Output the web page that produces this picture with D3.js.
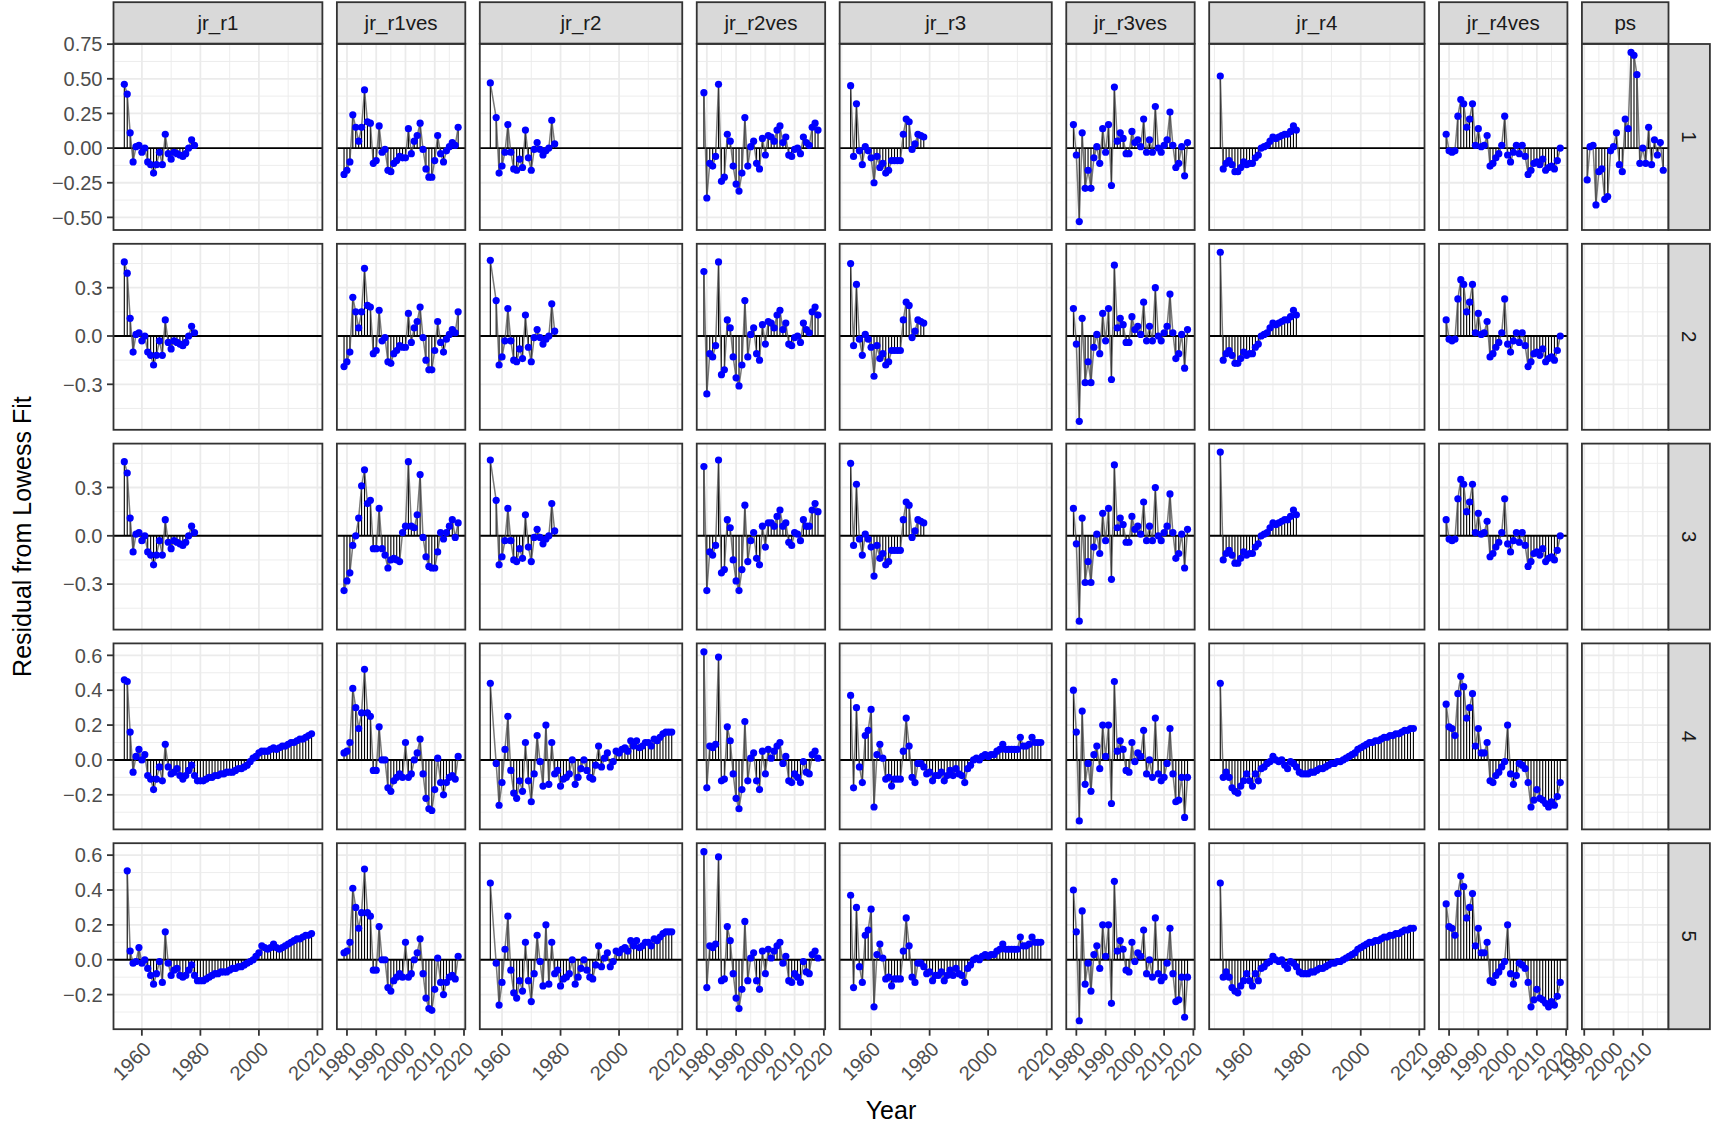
<!DOCTYPE html>
<html>
<head>
<meta charset="utf-8">
<script src="https://cdn.jsdelivr.net/npm/d3@7"></script>
<style>
  body { margin: 0; background: #fff; }
  svg { display: block; }
  text { font-family: "Liberation Sans", Arial, Helvetica, sans-serif; }
</style>
</head>
<body>
<svg id="chart" width="1711" height="1128"></svg>
<script>
// facet columns and rows
var columns = ["jr_r1", "jr_r1ves", "jr_r2", "jr_r2ves", "jr_r3", "jr_r3ves", "jr_r4", "jr_r4ves", "ps"];
var rowLabels = ["1", "2", "3", "4", "5"];

// residuals, one value per year from the first year given in panelData (null = no value that year)
var jr_r1_a = [0.46, 0.39, 0.11, -0.10, 0.01, 0.02,
  -0.03, 0.00, -0.10, -0.12, -0.18, -0.12, -0.03, -0.12, 0.10, -0.04,
  -0.08, -0.03, -0.04, -0.05, -0.06, -0.04, 0.00, 0.06, 0.02];
var jr_r1_d = [0.46, 0.45, 0.16, -0.07, 0.02, 0.06,
  0.00, 0.03, -0.09, -0.11, -0.17, -0.11, -0.04, -0.12, 0.09, -0.04,
  -0.08, -0.07, -0.05, -0.09, -0.11, -0.09, -0.06, -0.03, -0.09, -0.12,
  -0.12, -0.12, -0.11, -0.10, -0.10, -0.09, -0.09, -0.08, -0.08, -0.07,
  -0.07, -0.07, -0.06, -0.05, -0.05, -0.04, -0.03, -0.01, 0.01, 0.02,
  0.04, 0.05, 0.05, 0.05, 0.06, 0.07, 0.06, 0.07, 0.08, 0.08,
  0.09, 0.10, 0.10, 0.11, 0.12, 0.12, 0.13, 0.14, 0.15];
var jr_r1_e = [0.51, 0.05, -0.02, -0.01, 0.07,
  -0.02, 0.00, -0.05, -0.09, -0.14, -0.08, -0.01, -0.13, 0.16, -0.02,
  -0.09, -0.06, -0.05, -0.09, -0.10, -0.09, -0.06, -0.03, -0.09, -0.12,
  -0.12, -0.12, -0.11, -0.10, -0.09, -0.08, -0.08, -0.07, -0.07, -0.07,
  -0.06, -0.05, -0.05, -0.04, -0.04, -0.03, -0.02, -0.01, 0.00, 0.02,
  0.04, 0.08, 0.07, 0.06, 0.07, 0.09, 0.07, 0.06, 0.07, 0.08,
  0.09, 0.10, 0.11, 0.12, 0.12, 0.13, 0.14, 0.14, 0.15];

var jr_r1ves_a = [-0.19, -0.16, -0.10, 0.24, 0.15, 0.05, 0.15, 0.42, 0.19, 0.18,
  -0.11, -0.09, 0.16, -0.03, -0.01, -0.16, -0.17, -0.11, -0.09, -0.06,
  -0.07, -0.07, 0.14, -0.04, 0.05, 0.09, 0.18, -0.01, -0.15, -0.21,
  -0.21, -0.09, 0.09, -0.04, -0.10, -0.02, 0.01, 0.04, 0.02, 0.15];
var jr_r1ves_c = [-0.34, -0.28, -0.23, -0.06, 0.00, 0.11, 0.31, 0.41, 0.20, 0.22,
  -0.08, -0.08, 0.17, -0.08, -0.12, -0.20, -0.15, -0.14, -0.15, -0.16,
  0.02, 0.06, 0.46, 0.06, 0.05, 0.13, 0.38, -0.01, -0.13, -0.19,
  -0.20, -0.20, -0.10, 0.02, -0.02, 0.02, 0.06, 0.10, -0.01, 0.08];
var jr_r1ves_d = [0.04, 0.05, 0.10, 0.41, 0.30, 0.18, 0.27, 0.52, 0.27, 0.25,
  -0.06, -0.06, 0.19, 0.00, 0.00, -0.16, -0.18, -0.12, -0.10, -0.08,
  -0.10, 0.10, -0.10, -0.08, 0.00, 0.04, 0.12, -0.08, -0.22, -0.28,
  -0.29, -0.17, 0.01, -0.13, -0.20, -0.13, -0.10, -0.09, -0.11, 0.02];

var jr_r2_a = [0.47, null, 0.22, -0.18,
  -0.13, -0.03, 0.17, -0.03, -0.15, -0.16, -0.08, -0.14, 0.13, -0.07,
  -0.16, -0.01, 0.04, -0.01, -0.05, -0.02, 0.00, 0.20, 0.03];
var jr_r2_d = [0.44, null, -0.02, -0.26,
  -0.13, 0.06, 0.25, -0.06, -0.19, -0.22, -0.12, -0.18, 0.10, -0.12,
  -0.24, -0.08, 0.14, -0.01, -0.15, 0.20, -0.14, 0.10, -0.08, -0.06,
  -0.15, -0.11, -0.10, -0.08, 0.00, -0.14, -0.10, -0.05, 0.00, -0.06,
  -0.10, -0.11, -0.03, 0.08, -0.04, 0.01, 0.04, -0.04, -0.01, 0.05,
  0.04, 0.06, 0.07, 0.05, 0.11, 0.08, 0.11, 0.07, 0.08, 0.10,
  0.10, 0.08, 0.12, 0.11, 0.13, 0.15, 0.16, 0.16, 0.16];

var jr_r2ves_a = [0.40, -0.36, -0.11, -0.13, -0.06, 0.46, -0.24, -0.21, 0.10, 0.05,
  -0.13, -0.26, -0.31, -0.18, 0.22, -0.13, 0.01, 0.05, -0.11, -0.15,
  0.07, -0.05, 0.09, 0.08, 0.05, 0.13, 0.16, 0.04, 0.08, -0.05,
  -0.06, -0.01, 0.00, -0.04, 0.08, 0.04, 0.02, 0.15, 0.18, 0.13];
var jr_r2ves_c = [0.43, -0.34, -0.10, -0.12, -0.06, 0.47, -0.23, -0.21, 0.10, 0.05,
  -0.15, -0.28, -0.34, -0.21, 0.19, -0.16, -0.03, 0.02, -0.14, -0.18,
  0.06, -0.07, 0.08, 0.08, 0.06, 0.12, 0.16, 0.06, 0.08, -0.04,
  -0.06, 0.02, 0.01, -0.03, 0.10, 0.06, 0.06, 0.16, 0.20, 0.15];
var jr_r2ves_d = [0.62, -0.16, 0.08, 0.07, 0.09, 0.59, -0.12, -0.11, 0.19, 0.11,
  -0.08, -0.22, -0.28, -0.17, 0.22, -0.12, 0.01, 0.04, -0.12, -0.17,
  0.05, -0.08, 0.06, 0.01, 0.05, 0.08, 0.10, -0.02, 0.02, -0.12,
  -0.13, -0.08, -0.10, -0.13, -0.01, -0.07, -0.08, 0.03, 0.05, 0.01];

var jr_r3_a = [0.45, -0.06, 0.32, -0.02, -0.12, 0.01, -0.02,
  -0.07, -0.25, -0.06, -0.14, -0.11, -0.18, -0.16, -0.09, -0.09, -0.09,
  -0.09, 0.10, 0.21, 0.19, -0.01, 0.03, 0.10, 0.09, 0.08];
var jr_r3_d = [0.37, -0.16, 0.30, -0.04, -0.13, 0.14, 0.17,
  0.29, -0.27, 0.03, 0.09, 0.01, -0.11, -0.10, -0.15, -0.11, -0.11,
  -0.11, 0.05, 0.24, 0.08, -0.10, -0.13, -0.02, -0.02, -0.04, -0.08,
  -0.07, -0.12, -0.09, -0.09, -0.07, -0.12, -0.09, -0.06, -0.09, -0.05,
  -0.08, -0.09, -0.13, -0.05, -0.03, 0.00, 0.01, 0.00, 0.02, 0.03,
  0.02, 0.03, 0.03, 0.05, 0.06, 0.09, 0.06, 0.06, 0.06, 0.06,
  0.06, 0.13, 0.08, 0.08, 0.09, 0.13, 0.10, 0.10, 0.10];

var jr_r3ves_a = [0.17, -0.05, -0.53, 0.11, -0.29, -0.16, -0.29, -0.07, 0.01, -0.11,
  0.14, -0.03, 0.17, -0.27, 0.44, 0.05, 0.11, 0.07, -0.04, -0.04,
  0.12, 0.04, 0.06, 0.01, 0.21, -0.03, 0.06, -0.03, 0.30, 0.00,
  -0.03, 0.02, 0.06, 0.26, 0.02, -0.14, -0.11, 0.01, -0.20, 0.04];
var jr_r3ves_d = [0.40, 0.16, -0.35, 0.28, -0.14, -0.02, -0.18, 0.03, 0.08, -0.05,
  0.20, 0.02, 0.20, -0.25, 0.45, 0.05, 0.11, 0.06, -0.06, -0.07,
  0.10, -0.01, 0.04, 0.02, 0.17, -0.08, 0.00, -0.10, 0.24, -0.08,
  -0.12, -0.10, -0.02, 0.18, -0.08, -0.24, -0.23, -0.10, -0.33, -0.10];

var jr_r4_a = [0.52, -0.15, -0.11, -0.09, -0.12, -0.17, -0.17, -0.14,
  -0.10, -0.12, -0.11, -0.11, -0.07, -0.05, 0.00, 0.01, 0.02, 0.05,
  0.08, 0.07, 0.08, 0.09, 0.10, 0.10, 0.12, 0.16, 0.13];
var jr_r4_d = [0.44, -0.10, -0.07, -0.10, -0.16, -0.18, -0.19, -0.15,
  -0.12, -0.08, -0.12, -0.15, -0.08, -0.12, -0.05, -0.04, -0.02, -0.01,
  0.02, 0.00, -0.01, 0.00, -0.03, -0.05, -0.01, -0.02, -0.04, -0.07,
  -0.08, -0.08, -0.08, -0.07, -0.07, -0.06, -0.05, -0.05, -0.04, -0.03,
  -0.02, -0.02, -0.01, -0.01, 0.00, 0.01, 0.02, 0.03, 0.04, 0.06,
  0.07, 0.08, 0.09, 0.10, 0.10, 0.11, 0.11, 0.12, 0.13, 0.13,
  0.14, 0.14, 0.15, 0.15, 0.16, 0.17, 0.17, 0.18, 0.18];

var jr_r4ves_a = [0.10, -0.02, -0.03, -0.02, 0.23, 0.35, 0.32, 0.15, 0.21, 0.32,
  0.02, 0.14, 0.01, 0.02, 0.09, -0.13, -0.11, -0.07, -0.04, 0.02,
  0.23, -0.05, -0.10, -0.03, 0.02, -0.04, 0.02, -0.06, -0.19, -0.16,
  -0.11, -0.10, -0.12, -0.08, -0.16, -0.14, -0.13, -0.15, -0.09, 0.00];
var jr_r4ves_d = [0.32, 0.19, 0.18, 0.14, 0.38, 0.48, 0.42, 0.24, 0.30, 0.38,
  0.08, 0.18, 0.04, 0.04, 0.10, -0.12, -0.13, -0.09, -0.07, -0.04,
  -0.01, 0.20, -0.08, -0.14, -0.09, -0.02, -0.03, -0.05, -0.13, -0.27,
  -0.23, -0.17, -0.22, -0.23, -0.25, -0.27, -0.24, -0.26, -0.21, -0.13];

var ps_a = [-0.23, 0.01, 0.02, -0.41, -0.17, -0.15, -0.37, -0.35, -0.02,
  0.01, 0.11, -0.12, -0.17, 0.21, 0.14, 0.69, 0.67, 0.53, -0.11,
  0.00, -0.11, 0.15, -0.12, 0.06, -0.05, 0.04, -0.16];

// [column, row index, first year, residuals]
var panelData = [
  ["jr_r1", 0, 1954, jr_r1_a], ["jr_r1", 1, 1954, jr_r1_a], ["jr_r1", 2, 1954, jr_r1_a],
  ["jr_r1", 3, 1954, jr_r1_d], ["jr_r1", 4, 1955, jr_r1_e],
  ["jr_r1ves", 0, 1979, jr_r1ves_a], ["jr_r1ves", 1, 1979, jr_r1ves_a], ["jr_r1ves", 2, 1979, jr_r1ves_c],
  ["jr_r1ves", 3, 1979, jr_r1ves_d], ["jr_r1ves", 4, 1979, jr_r1ves_d],
  ["jr_r2", 0, 1956, jr_r2_a], ["jr_r2", 1, 1956, jr_r2_a], ["jr_r2", 2, 1956, jr_r2_a],
  ["jr_r2", 3, 1956, jr_r2_d], ["jr_r2", 4, 1956, jr_r2_d],
  ["jr_r2ves", 0, 1979, jr_r2ves_a], ["jr_r2ves", 1, 1979, jr_r2ves_a], ["jr_r2ves", 2, 1979, jr_r2ves_c],
  ["jr_r2ves", 3, 1979, jr_r2ves_d], ["jr_r2ves", 4, 1979, jr_r2ves_d],
  ["jr_r3", 0, 1953, jr_r3_a], ["jr_r3", 1, 1953, jr_r3_a], ["jr_r3", 2, 1953, jr_r3_a],
  ["jr_r3", 3, 1953, jr_r3_d], ["jr_r3", 4, 1953, jr_r3_d],
  ["jr_r3ves", 0, 1979, jr_r3ves_a], ["jr_r3ves", 1, 1979, jr_r3ves_a], ["jr_r3ves", 2, 1979, jr_r3ves_a],
  ["jr_r3ves", 3, 1979, jr_r3ves_d], ["jr_r3ves", 4, 1979, jr_r3ves_d],
  ["jr_r4", 0, 1952, jr_r4_a], ["jr_r4", 1, 1952, jr_r4_a], ["jr_r4", 2, 1952, jr_r4_a],
  ["jr_r4", 3, 1952, jr_r4_d], ["jr_r4", 4, 1952, jr_r4_d],
  ["jr_r4ves", 0, 1979, jr_r4ves_a], ["jr_r4ves", 1, 1979, jr_r4ves_a], ["jr_r4ves", 2, 1979, jr_r4ves_a],
  ["jr_r4ves", 3, 1979, jr_r4ves_d], ["jr_r4ves", 4, 1979, jr_r4ves_d],
  ["ps", 0, 1991, ps_a]
];

// axis breaks
var yTicksByRow = [
  [-0.5, -0.25, 0, 0.25, 0.5, 0.75],
  [-0.3, 0, 0.3],
  [-0.3, 0, 0.3],
  [-0.2, 0, 0.2, 0.4, 0.6],
  [-0.2, 0, 0.2, 0.4, 0.6]
];
var yTickDigits = [2, 1, 1, 1, 1];
var xTicksJr = [1960, 1980, 2000, 2020];
var xTicksVes = [1980, 1990, 2000, 2010, 2020];
var xTicksPs = [1990, 2000, 2010];

var xLabel = "Year";
var yLabel = "Residual from Lowess Fit";

// ---- layout ----
var left = 113.5, right = 1668.5, gapX = 14.5;
var stripTop = 2.2, stripH = 41.4;
var panelTop = 44, panelH = 186, gapY = 13.8;
var tickLen = 6.5;
var barHalf = 0.45; // the yearly bars are 0.9 wide, which widens the x range
var gridCol = "#EBEBEB", borderCol = "#333333";

var svg = d3.select("#chart");

var panels = panelData.map(function (p) {
  var pts = p[3].map(function (v, i) { return { year: p[2] + i, v: v }; })
    .filter(function (d) { return d.v !== null; });
  return { col: p[0], row: p[1], points: pts };
});

function expand(ext) {
  var pad = (ext[1] - ext[0]) * 0.05;
  return [ext[0] - pad, ext[1] + pad];
}

// x domain per column (shared down the column), width proportional to its span
var xDomains = columns.map(function (c) {
  var yrs = [];
  panels.filter(function (p) { return p.col === c; })
    .forEach(function (p) { p.points.forEach(function (d) { yrs.push(d.year); }); });
  var ext = d3.extent(yrs);
  return expand([ext[0] - barHalf, ext[1] + barHalf]);
});
var spans = xDomains.map(function (d) { return d[1] - d[0]; });
var totalW = (right - left) - gapX * (columns.length - 1);
var spanSum = d3.sum(spans);
var colX = [], colW = [];
var cx = left;
spans.forEach(function (s, i) {
  colX.push(cx);
  colW.push(totalW * s / spanSum);
  cx += totalW * s / spanSum + gapX;
});
var xScales = columns.map(function (c, i) {
  return d3.scaleLinear().domain(xDomains[i]).range([0, colW[i]]);
});

// y domain per row
var yScales = rowLabels.map(function (r, ri) {
  var vals = [];
  panels.filter(function (p) { return p.row === ri; })
    .forEach(function (p) { p.points.forEach(function (d) { vals.push(d.v); }); });
  return d3.scaleLinear().domain(expand(d3.extent(vals))).range([panelH, 0]);
});
var rowY = rowLabels.map(function (r, i) { return panelTop + i * (panelH + gapY); });

function xTicksFor(c) {
  if (c === "ps") return xTicksPs;
  if (c.indexOf("ves") >= 0) return xTicksVes;
  return xTicksJr;
}
function minorOf(ticks, domain) {
  var step = ticks[1] - ticks[0];
  var m = [ticks[0] - step / 2].concat(ticks.map(function (t) { return t + step / 2; }));
  return m.filter(function (v) { return v > domain[0] && v < domain[1]; });
}
function fmt(v, digits) {
  var s = Math.abs(v).toFixed(digits);
  return (v < 0 ? "\u2212" : "") + s;
}

var defs = svg.append("defs");

columns.forEach(function (c, ci) {
  var x = xScales[ci];
  var xt = xTicksFor(c).filter(function (t) { return t >= x.domain()[0] && t <= x.domain()[1]; });
  var xm = minorOf(xTicksFor(c), x.domain());

  rowLabels.forEach(function (r, ri) {
    var y = yScales[ri];
    var yt = yTicksByRow[ri];
    var ym = minorOf(yt, y.domain());
    var w = colW[ci];

    var g = svg.append("g").attr("transform", "translate(" + colX[ci] + "," + rowY[ri] + ")");
    g.append("rect").attr("width", w).attr("height", panelH).attr("fill", "#fff");

    // minor grid
    g.selectAll(".xm").data(xm).enter().append("line")
      .attr("x1", x).attr("x2", x).attr("y1", 0).attr("y2", panelH)
      .attr("stroke", gridCol).attr("stroke-width", 0.9);
    g.selectAll(".ym").data(ym).enter().append("line")
      .attr("y1", y).attr("y2", y).attr("x1", 0).attr("x2", w)
      .attr("stroke", gridCol).attr("stroke-width", 0.9);
    // major grid
    g.selectAll(".xg").data(xt).enter().append("line")
      .attr("x1", x).attr("x2", x).attr("y1", 0).attr("y2", panelH)
      .attr("stroke", gridCol).attr("stroke-width", 1.8);
    g.selectAll(".yg").data(yt).enter().append("line")
      .attr("y1", y).attr("y2", y).attr("x1", 0).attr("x2", w)
      .attr("stroke", gridCol).attr("stroke-width", 1.8);

    var clipId = "clip-" + ci + "-" + ri;
    defs.append("clipPath").attr("id", clipId)
      .append("rect").attr("width", w).attr("height", panelH);
    var inner = g.append("g").attr("clip-path", "url(#" + clipId + ")");

    var p = panels.find(function (d) { return d.col === c && d.row === ri; });
    if (p) {
      // zero line
      inner.append("line")
        .attr("x1", 0).attr("x2", w).attr("y1", y(0)).attr("y2", y(0))
        .attr("stroke", "#000").attr("stroke-width", 1.9);

      inner.selectAll(".seg").data(p.points).enter().append("line")
        .attr("x1", function (d) { return x(d.year); })
        .attr("x2", function (d) { return x(d.year); })
        .attr("y1", y(0))
        .attr("y2", function (d) { return y(d.v); })
        .attr("stroke", "#000").attr("stroke-width", 1.1);

      inner.append("path")
        .datum(p.points)
        .attr("d", d3.line().x(function (d) { return x(d.year); }).y(function (d) { return y(d.v); }))
        .attr("fill", "none").attr("stroke", "#4d4d4d").attr("stroke-opacity", 0.75)
        .attr("stroke-width", 1.5);

      inner.selectAll(".pt").data(p.points).enter().append("circle")
        .attr("cx", function (d) { return x(d.year); })
        .attr("cy", function (d) { return y(d.v); })
        .attr("r", 3.6)
        .attr("fill", "#0000FF");
    }

    g.append("rect").attr("width", w).attr("height", panelH)
      .attr("fill", "none").attr("stroke", borderCol).attr("stroke-width", 1.8);

    // y axis on the first column
    if (ci === 0) {
      var ya = svg.append("g").attr("transform", "translate(" + left + "," + rowY[ri] + ")");
      ya.selectAll("line").data(yt).enter().append("line")
        .attr("x1", -tickLen).attr("x2", 0).attr("y1", y).attr("y2", y)
        .attr("stroke", borderCol).attr("stroke-width", 1.8);
      ya.selectAll("text").data(yt).enter().append("text")
        .attr("x", -tickLen - 4.5).attr("y", y).attr("dy", "0.36em")
        .attr("text-anchor", "end").attr("font-size", 20).attr("fill", "#4D4D4D")
        .text(function (d) { return fmt(d, yTickDigits[ri]); });
    }

    // x axis under the last row
    if (ri === rowLabels.length - 1) {
      var yb = rowY[ri] + panelH;
      var xa = svg.append("g").attr("transform", "translate(" + colX[ci] + "," + yb + ")");
      xa.selectAll("line").data(xt).enter().append("line")
        .attr("x1", x).attr("x2", x).attr("y1", 0).attr("y2", tickLen)
        .attr("stroke", borderCol).attr("stroke-width", 1.8);
      xa.selectAll("text").data(xt).enter().append("text")
        .attr("transform", function (d) { return "translate(" + x(d) + "," + (tickLen + 4) + ") rotate(-45)"; })
        .attr("dy", "0.75em")
        .attr("text-anchor", "end").attr("font-size", 20).attr("fill", "#4D4D4D")
        .text(function (d) { return d; });
    }
  });

  // top strip
  var sg = svg.append("g").attr("transform", "translate(" + colX[ci] + "," + stripTop + ")");
  sg.append("rect").attr("width", colW[ci]).attr("height", stripH)
    .attr("fill", "#D9D9D9").attr("stroke", borderCol).attr("stroke-width", 1.8);
  sg.append("text").attr("x", colW[ci] / 2).attr("y", stripH / 2).attr("dy", "0.36em")
    .attr("text-anchor", "middle").attr("font-size", 20.5).attr("fill", "#1A1A1A")
    .text(c);
});

// right strips
rowLabels.forEach(function (r, ri) {
  var sg = svg.append("g").attr("transform", "translate(" + right + "," + rowY[ri] + ")");
  sg.append("rect").attr("width", stripH).attr("height", panelH)
    .attr("fill", "#D9D9D9").attr("stroke", borderCol).attr("stroke-width", 1.8);
  sg.append("text")
    .attr("transform", "translate(" + (stripH / 2) + "," + (panelH / 2) + ") rotate(90)")
    .attr("dy", "0.36em").attr("text-anchor", "middle")
    .attr("font-size", 20.5).attr("fill", "#1A1A1A")
    .text(r);
});

// axis titles
svg.append("text")
  .attr("x", (left + right) / 2).attr("y", 1119)
  .attr("text-anchor", "middle").attr("font-size", 25).attr("fill", "#000")
  .text(xLabel);
svg.append("text")
  .attr("transform", "translate(31," + (panelTop + (rowLabels.length * panelH + (rowLabels.length - 1) * gapY) / 2) + ") rotate(-90)")
  .attr("text-anchor", "middle").attr("font-size", 25).attr("fill", "#000")
  .text(yLabel);
</script>
</body>
</html>
